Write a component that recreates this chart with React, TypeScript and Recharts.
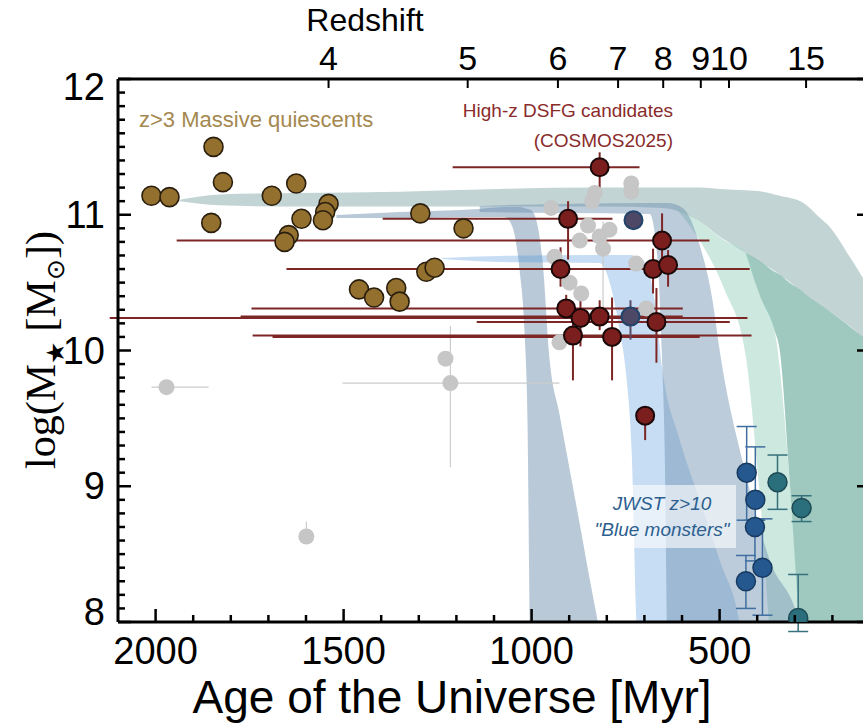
import React from 'react';
import { ComposedChart, Area, Scatter, XAxis, YAxis, ErrorBar } from 'recharts';

// ages in Myr, masses in log(M*/Msun)
const quiescents = [
  [2011, 11.14], [1963, 11.13], [1846, 11.5], [1821, 11.24], [1852, 10.94],
  [1691, 11.14], [1626, 11.23], [1612, 10.97], [1540, 11.08], [1549, 11.02],
  [1555, 10.96], [1646, 10.85], [1657, 10.8], [1296, 11.01], [1181, 10.9],
  [1280, 10.58], [1258, 10.61], [1459, 10.45], [1419, 10.39], [1360, 10.46],
  [1351, 10.36],
];

// age, mass, x error [young, old], y error [down, up]
const dsfg = [
  [819, 11.35, [106, 391], [0.17, 0.11]],
  [903, 10.97, [118, 493], [0.3, 0.13]],
  [653, 10.81, [126, 1291], [0.19, 0.2]],
  [923, 10.6, [364, 729], [0.13, 0.16]],
  [677, 10.6, [257, 780], [0.18, 0.15]],
  [637, 10.63, [0, 0], [0.16, 0.11]],
  [908, 10.31, [310, 837], [0.06, 0.1]],
  [870, 10.24, [444, 1252], [0.21, 0.13]],
  [819, 10.25, [221, 955], [0.1, 0.12]],
  [668, 10.21, [195, 478], [0.3, 0.25]],
  [890, 10.11, [475, 852], [0.33, 0.14]],
  [786, 10.1, [233, 903], [0.32, 0.29]],
  [698, 9.52, [0, 0], [0.18, 0.07]],
];

const dsfgBlue = [
  [729, 10.96, [0, 0], [0.05, 0.05]],
  [737, 10.25, [0, 0], [0.17, 0.12]],
];

const literature = [
  [735, 11.23, [0, 0], [0, 0]], [735, 11.17, [0, 0], [0, 0]], [832, 11.16, [0, 0], [0, 0]],
  [839, 11.1, [0, 0], [0, 0]], [948, 11.05, [0, 0], [0, 0]], [850, 10.92, [0, 0], [0, 0]],
  [793, 10.89, [0, 0], [0, 0]], [819, 10.84, [0, 0], [0, 0]], [872, 10.81, [0, 0], [0, 0]],
  [810, 10.75, [0, 0], [0.5, 0.2]], [939, 10.69, [0, 0], [0, 0]], [722, 10.64, [0, 0], [0, 0]],
  [899, 10.5, [0, 0], [0, 0]], [868, 10.42, [0, 0], [0, 0]], [695, 10.31, [0, 0], [0, 0]],
  [926, 10.06, [0, 0], [0, 0]], [1971, 9.73, [112, 40], [0, 0.05]], [1229, 9.94, [0, 0], [0, 0]],
  [1216, 9.76, [290, 287], [0.62, 0.42]], [1599, 8.63, [0, 0], [0, 0.11]],
];

const blueMonsters = [
  [428, 9.1, [0.35, 0.34]],
  [405, 8.9, [0.15, 0.39]],
  [406, 8.7, [0.25, 0.05]],
  [386, 8.4, [0.35, 0.36]],
  [430, 8.3, [0.2, 0.19]],
];

const tealMonsters = [
  [346, 9.03, [0.2, 0.2]],
  [282, 8.84, [0.1, 0.09]],
  [291, 8.03, [0.1, 0.32]],
];

// model bands: age, lower mass, upper mass
const bandA = [
  [1936, 11.1, 11.11], [1830, 11.07, 11.15], [1617, 11.06, 11.16], [1351, 11.06, 11.17],
  [1085, 11.06, 11.19], [819, 11.06, 11.2], [652, 11.05, 11.2], [553, 10.95, 11.2],
  [500, 10.84, 11.19], [431, 10.72, 11.18], [386, 10.64, 11.17], [340, 10.56, 11.14],
  [279, 10.43, 11.09], [234, 10.34, 10.98], [207, 10.29, 10.91], [154, 10.18, 10.69],
  [120, 10.1, 10.54], [101, 10.06, 10.45],
];
const bandD = [
  [431, 10.72, 10.72], [394, 10.41, 10.66], [354, 10.15, 10.58], [340, 10.0, 10.56],
  [314, 9.05, 10.5], [287, 8.0, 10.45], [274, 7.72, 10.42], [207, 7.72, 10.29], [101, 7.72, 10.06],
];
const bandM = [
  [617, 11.05, 11.05], [553, 10.81, 10.95], [487, 10.45, 10.81], [431, 9.97, 10.72],
  [394, 8.97, 10.41], [354, 7.72, 10.15], [314, 7.72, 9.05], [287, 7.72, 8.0], [280, 7.72, 7.72],
];
const bandB1 = [
  [1519, 10.976, 10.998], [1351, 10.976, 11.02], [1138, 10.984, 11.043], [1072, 10.984, 11.057],
  [1051, 10.91, 11.057], [1032, 10.593, 11.057], [1019, 10.151, 11.05], [1011, 9.494, 11.043],
  [1003, 7.72, 11.036], [992, 7.72, 10.998], [971, 7.72, 10.667], [952, 7.72, 9.93],
  [926, 7.72, 9.532], [899, 7.72, 9.127], [872, 7.72, 8.722], [846, 7.72, 8.324],
  [824, 7.72, 8.0], [806, 7.72, 7.72],
];
const bandB2 = [
  [1237, 10.674, 10.681], [1085, 10.652, 10.696], [819, 10.645, 10.704], [787, 10.446, 10.704],
  [766, 10.151, 10.704], [747, 9.783, 10.704], [734, 9.267, 10.704], [721, 8.0, 10.689],
  [713, 7.72, 10.681], [700, 7.72, 10.652], [673, 7.72, 10.372], [652, 7.72, 9.856],
  [606, 7.72, 9.341], [553, 7.72, 8.899], [500, 7.72, 8.457], [447, 7.72, 8.0], [431, 7.72, 7.72],
];
const bandB4 = [
  [1138, 11.02, 11.065], [926, 11.013, 11.08], [686, 11.006, 11.087], [665, 10.667, 11.087],
  [654, 10.004, 11.087], [646, 9.267, 11.087], [638, 7.72, 11.087], [598, 7.72, 11.05],
  [553, 7.72, 10.777], [519, 7.72, 10.372], [500, 7.72, 10.004], [431, 7.72, 9.098],
  [367, 7.72, 8.457], [287, 7.72, 7.98], [274, 7.72, 7.72],
];

const ageTicks = Array.from({ length: 19 }, (_, i) => 200 + i * 100);
const massTicks = Array.from({ length: 41 }, (_, i) => Math.round((8 + i * 0.1) * 10) / 10);
const zTickAges = [1540, 1170, 930, 770, 650, 550, 475, 270];
const zTickLabels = ['4', '5', '6', '7', '8', '9', '10', '15'];

const FONT = '"Liberation Sans", Arial, sans-serif';

const toBand = (rows: number[][]) => rows.map(([age, lo, hi]) => ({ age, range: [lo, hi] }));
const toPts = (rows: any[]) =>
  rows.map((r) => ({ age: r[0], mass: r[1], ex: r.length > 3 ? r[2] : [0, 0], ey: r.length > 3 ? r[3] : r[2] }));

const isMajor = (v: number) => Math.abs(v - Math.round(v)) < 1e-6;

const LeftTick = ({ x, y, payload }: any) => {
  const v = payload.value;
  const major = isMajor(v);
  const ly = v === 12 ? y + 8 : v === 8 ? y - 10 : y;
  return (
    <g>
      <line x1={x} x2={x + (major ? 13 : 7)} y1={y} y2={y} stroke="#000" strokeWidth={2.5} />
      {major && (
        <text x={x - 13} y={ly} textAnchor="end" dominantBaseline="central" fontFamily={FONT} fontSize={38} fill="#000">
          {v}
        </text>
      )}
    </g>
  );
};

const RightTick = ({ x, y, payload }: any) => {
  const major = isMajor(payload.value);
  return <line x1={x} x2={x - (major ? 13 : 7)} y1={y} y2={y} stroke="#000" strokeWidth={2.5} />;
};

const BottomTick = ({ x, y, payload }: any) => {
  const v = payload.value;
  const major = v % 500 === 0;
  return (
    <g>
      <line x1={x} x2={x} y1={y} y2={y - (major ? 13 : 7)} stroke="#000" strokeWidth={2.5} />
      {major && (
        <text x={x} y={y + 29} textAnchor="middle" dominantBaseline="central" fontFamily={FONT} fontSize={38} fill="#000">
          {v}
        </text>
      )}
    </g>
  );
};

const TopTick = ({ x, y, payload }: any) => {
  const label = zTickLabels[zTickAges.indexOf(payload.value)];
  return (
    <g>
      <line x1={x} x2={x} y1={y} y2={y + 9} stroke="#000" strokeWidth={2} />
      <text x={x} y={y - 21} textAnchor="middle" dominantBaseline="central" fontFamily={FONT} fontSize={34} fill="#000">
        {label}
      </text>
    </g>
  );
};

const circle = (fill: string, stroke: string, r: number, sw: number) => (p: any) =>
  <circle cx={p.cx} cy={p.cy} r={r} fill={fill} stroke={stroke} strokeWidth={sw} />;

const bands = [
  { data: bandA, fill: '#8fb1b0', op: 0.55 },
  { data: bandD, fill: '#5fa595', op: 0.6 },
  { data: bandM, fill: '#a3d5c5', op: 0.55 },
  { data: bandB1, fill: '#7393b0', op: 0.5 },
  { data: bandB2, fill: '#4d94d9', op: 0.32 },
  { data: bandB4, fill: '#6a8db0', op: 0.45 },
];

export default function App() {
  return (
    <div style={{ position: 'absolute', left: 0, top: 0, width: 863, height: 724, overflow: 'hidden', background: '#fff' }}>
      <ComposedChart width={880} height={724} margin={{ top: 0, right: 0, bottom: 0, left: 0 }}>
        <XAxis
          dataKey="age"
          type="number"
          domain={[100, 2100]}
          reversed
          allowDataOverflow
          ticks={ageTicks}
          interval={0}
          height={102}
          tickSize={0}
          tickMargin={0}
          tickLine={false}
          axisLine={{ stroke: '#000', strokeWidth: 3 }}
          tick={BottomTick}
        />
        <XAxis
          xAxisId="top"
          orientation="top"
          dataKey="age"
          type="number"
          domain={[100, 2100]}
          reversed
          allowDataOverflow
          ticks={zTickAges}
          interval={0}
          height={79}
          tickSize={0}
          tickMargin={0}
          tickLine={false}
          axisLine={{ stroke: '#000', strokeWidth: 3 }}
          tick={TopTick}
        />
        <YAxis
          dataKey="mass"
          type="number"
          domain={[8, 12]}
          allowDataOverflow
          ticks={massTicks}
          interval={0}
          width={118}
          tickSize={0}
          tickMargin={0}
          tickLine={false}
          axisLine={{ stroke: '#000', strokeWidth: 3 }}
          tick={LeftTick}
        />
        <YAxis
          yAxisId="right"
          orientation="right"
          type="number"
          domain={[8, 12]}
          allowDataOverflow
          ticks={massTicks}
          interval={0}
          width={10}
          tickSize={0}
          tickMargin={0}
          tickLine={false}
          axisLine={false}
          tick={RightTick}
        />

        {bands.map((b, i) => (
          <Area
            key={i}
            data={toBand(b.data)}
            dataKey="range"
            type="monotone"
            stroke="none"
            fill={b.fill}
            fillOpacity={b.op}
            dot={false}
            activeDot={false}
            isAnimationActive={false}
          />
        ))}

        <Scatter data={toPts(literature)} shape={circle('#c6c6c6', 'none', 8, 0)} isAnimationActive={false}>
          <ErrorBar dataKey="ex" direction="x" width={0} stroke="#cccccc" strokeWidth={1.2} />
          <ErrorBar dataKey="ey" direction="y" width={0} stroke="#cccccc" strokeWidth={1.2} />
        </Scatter>
        <Scatter
          data={quiescents.map(([age, mass]) => ({ age, mass }))}
          shape={circle('#94702f', '#2a1f0e', 9.5, 1.6)}
          isAnimationActive={false}
        />
        <Scatter data={toPts(dsfg)} shape={circle('#7a1e1e', '#1a0808', 9, 2)} isAnimationActive={false}>
          <ErrorBar dataKey="ex" direction="x" width={0} stroke="#7d2626" strokeWidth={2} />
          <ErrorBar dataKey="ey" direction="y" width={0} stroke="#7d2626" strokeWidth={2} />
        </Scatter>
        <Scatter data={toPts(dsfgBlue)} shape={circle('#4d4866', '#22446a', 9, 2)} isAnimationActive={false}>
          <ErrorBar dataKey="ey" direction="y" width={0} stroke="#5a4a66" strokeWidth={2} />
        </Scatter>
        <Scatter data={toPts(blueMonsters)} shape={circle('#24588f', '#173a60', 9.5, 1.5)} isAnimationActive={false}>
          <ErrorBar dataKey="ey" direction="y" width={10} stroke="#3f6ea0" strokeWidth={1.5} />
        </Scatter>
        <Scatter data={toPts(tealMonsters)} shape={circle('#2b6f7c', '#1d4a55', 9.5, 1.5)} isAnimationActive={false}>
          <ErrorBar dataKey="ey" direction="y" width={10} stroke="#35707c" strokeWidth={1.5} />
        </Scatter>
      </ComposedChart>

      <div style={{ position: 'absolute', left: 365, top: 20, transform: 'translate(-50%,-50%)', fontFamily: FONT, fontSize: 32, lineHeight: '36px', whiteSpace: 'nowrap' }}>
        Redshift
      </div>
      <div style={{ position: 'absolute', left: 452, top: 697, transform: 'translate(-50%,-50%)', fontFamily: FONT, fontSize: 46, lineHeight: '50px', whiteSpace: 'nowrap' }}>
        Age of the Universe [Myr]
      </div>
      <div
        style={{
          position: 'absolute', left: 44, top: 350, transform: 'translate(-50%,-50%) rotate(-90deg)',
          fontFamily: '"Liberation Serif", "Times New Roman", serif', fontSize: 42, whiteSpace: 'nowrap', lineHeight: 1,
        }}
      >
        log(M<sub style={{ fontSize: '0.6em' }}>★</sub> [M<sub style={{ fontSize: '0.6em' }}>⊙</sub>])
      </div>
      <div style={{ position: 'absolute', left: 139, top: 120, transform: 'translateY(-50%)', fontFamily: FONT, fontSize: 22, color: '#a5884f', whiteSpace: 'nowrap' }}>
        z&gt;3 Massive quiescents
      </div>
      <div style={{ position: 'absolute', right: 863 - 673, top: 96, fontFamily: FONT, fontSize: 19, color: '#8a2b2b', textAlign: 'right', lineHeight: '30px', whiteSpace: 'nowrap' }}>
        High-z DSFG candidates
        <br />
        (COSMOS2025)
      </div>
      <div
        style={{
          position: 'absolute', left: 588, top: 485, width: 148, height: 63, background: 'rgba(255,255,255,0.6)',
          fontFamily: FONT, fontSize: 19, fontStyle: 'italic', color: '#2d5f8f', textAlign: 'center', lineHeight: '26px',
          display: 'flex', flexDirection: 'column', justifyContent: 'center',
        }}
      >
        <div>JWST z&gt;10</div>
        <div>"Blue monsters"</div>
      </div>
    </div>
  );
}
